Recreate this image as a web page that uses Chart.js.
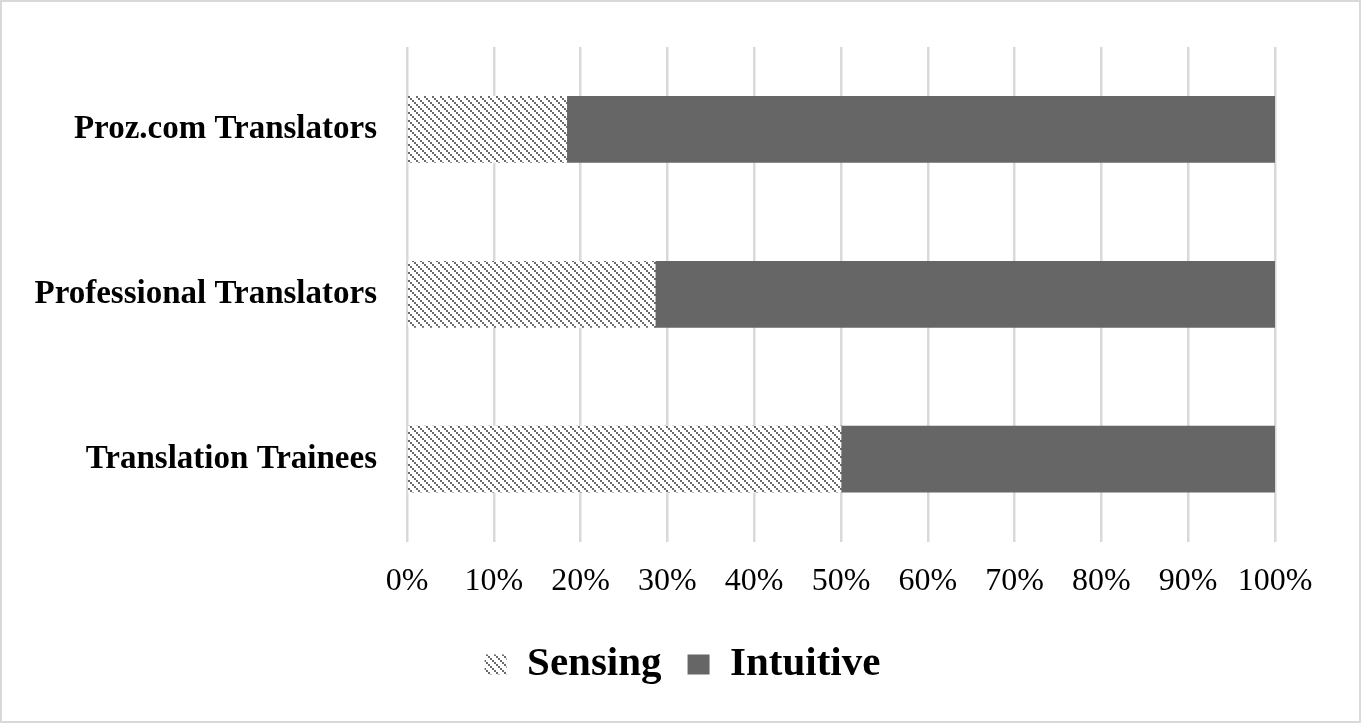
<!DOCTYPE html>
<html>
<head>
<meta charset="utf-8">
<script src="https://cdn.jsdelivr.net/npm/chart.js@4/dist/chart.umd.min.js"></script>
<style>
  html,body{margin:0;padding:0;background:#fff;}
  #ramme{position:absolute;left:0;top:0;width:1361px;height:723px;box-sizing:border-box;border:2px solid #d9d9d9;}
  #wrap{position:absolute;left:0;top:0;width:1362px;height:725px;}
</style>
</head>
<body>
<div id="ramme"></div>
<div id="wrap"><canvas id="chart"></canvas></div>
<script>
// data
const kategorier = ["Proz.com Translators", "Professional Translators", "Translation Trainees"];
const sensing   = [18.4, 28.6, 50.0];  // % sensing
const intuitive = [81.6, 71.4, 50.0];  // % intuitive
const serieNavn = ["Sensing", "Intuitive"];
const xTicks    = [0, 10, 20, 30, 40, 50, 60, 70, 80, 90, 100];

const font = "'Liberation Serif', 'Times New Roman', serif";

// skravert mønster for sensing (prikkete diagonaler)
function lagMonster(){
  const c = document.createElement("canvas");
  c.width = 8; c.height = 8;
  const g = c.getContext("2d");
  g.fillStyle = "#fff";
  g.fillRect(0, 0, 8, 8);
  g.fillStyle = "#6a6a6a";
  for(let i=0;i<8;i+=2) g.fillRect(i, i, 2, 2);
  return g.createPattern(c, "repeat");
}
const monster = lagMonster();

// flytter legenden (chart.js sentrerer den i forhold til padding)
const flyttLegende = {
  id: "flyttLegende",
  afterLayout(ch){
    const l = ch.legend;
    if(!l) return;
    l.left = 45; l.right = 1320;
    l.top -= 4; l.bottom -= 4;
  }
};

const chart = new Chart(document.getElementById("chart"), {
  type: "bar",
  data: {
    labels: kategorier,
    datasets: [
      {label: serieNavn[0], data: sensing,   backgroundColor: monster,   borderWidth: 0, barThickness: 66},
      {label: serieNavn[1], data: intuitive, backgroundColor: "#666666", borderWidth: 0, barThickness: 66}
    ]
  },
  plugins: [flyttLegende],
  options: {
    indexAxis: "y",
    responsive: true,
    maintainAspectRatio: false,
    animation: false,
    layout: {padding: {left: 0, right: 87, top: 47, bottom: 26}},
    plugins: {
      tooltip: {enabled: false},
      legend: {
        position: "bottom",
        labels: {
          boxWidth: 22, boxHeight: 20, padding: 26,
          color: "#000",
          font: {family: font, size: 41, weight: "bold"}
        }
      }
    },
    scales: {
      x: {
        stacked: true,
        min: 0, max: 100,
        afterBuildTicks: s => { s.ticks = xTicks.map(v => ({value: v})); },
        ticks: {
          color: "#000", padding: 21,
          font: {family: font, size: 32},
          callback: v => v + "%"
        },
        grid: {color: "#d9d9d9", lineWidth: 2.5, drawTicks: false},
        border: {display: false}
      },
      y: {
        stacked: true,
        // aksen står på x=407, og tekst-padding skal ikke skyve plottet ned
        afterFit: s => { s.width = 407; s.paddingTop = 0; s.paddingBottom = 0; },
        ticks: {
          color: "#000", padding: 30,
          font: {family: font, size: 33, weight: "bold"}
        },
        grid: {display: false, drawTicks: false},
        border: {display: false}
      }
    }
  }
});
</script>
</body>
</html>
